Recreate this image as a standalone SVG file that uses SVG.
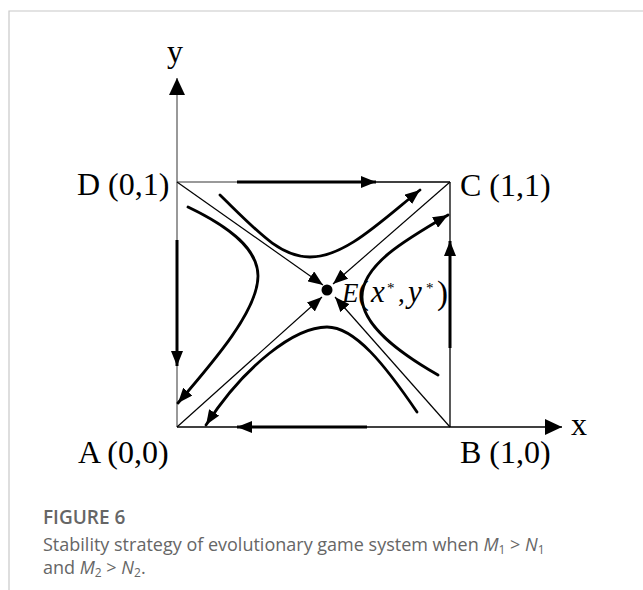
<svg xmlns="http://www.w3.org/2000/svg" width="643" height="590" viewBox="0 0 643 590">
<style>
.lbl{font-family:"Liberation Serif","Times New Roman",serif;font-size:32px;fill:#000}
.ax{stroke:#777;stroke-width:1.5;fill:none}
.edge{stroke:#000;stroke-width:1.3;fill:none}
.thick{stroke:#000;stroke-width:3;fill:none}
.curve{stroke:#000;stroke-width:2.8;fill:none;stroke-linecap:round}
.thin{stroke:#000;stroke-width:1.2;fill:none}
.cap{font-family:"Open Sans","Noto Sans",sans-serif;fill:#666}
.ef{font-family:"Liberation Serif","Times New Roman",serif;fill:#000}
</style>
<defs>
<marker id="ah" viewBox="0 0 15 12" refX="15" refY="6" markerWidth="15" markerHeight="12" markerUnits="userSpaceOnUse" orient="auto">
<path d="M0,0 L15,6 L0,12 Z" fill="#000"/>
</marker>
<marker id="ahs" viewBox="0 0 15 12" refX="15" refY="6" markerWidth="15" markerHeight="12" markerUnits="userSpaceOnUse" orient="auto">
<path d="M0,0 L15,6 L0,12 Z" fill="#000"/>
</marker>
<marker id="ahx" viewBox="0 0 17 16" refX="17" refY="8" markerWidth="17" markerHeight="16" markerUnits="userSpaceOnUse" orient="auto">
<path d="M0,0 L17,8 L0,16 Z" fill="#000"/>
</marker>
</defs>
<rect x="0" y="0" width="643" height="590" fill="#fff"/>
<g id="frame">
<path d="M9,590 V11 H643" stroke="#c8c8c8" stroke-width="1.2" fill="none"/>
</g>
<g id="axes">
<line class="ax" x1="177" y1="427" x2="177" y2="78" marker-end="url(#ahx)"/>
<line class="edge" x1="177" y1="427" x2="562" y2="427" marker-end="url(#ahx)"/>
</g>
<g id="square">
<line class="ax" x1="177" y1="182" x2="240" y2="182"/>
<line class="edge" x1="240" y1="182" x2="450" y2="182"/>
<line class="edge" x1="450" y1="182" x2="450" y2="427"/>
</g>
<g id="connectors">
<line class="thick" x1="237" y1="182" x2="376" y2="182" marker-end="url(#ah)"/>
<line class="thick" x1="177" y1="240" x2="177" y2="366" marker-end="url(#ah)"/>
<line class="thick" x1="450" y1="348" x2="450" y2="241" marker-end="url(#ah)"/>
<line class="thick" x1="367" y1="427" x2="237" y2="427" marker-end="url(#ah)"/>
<line class="thin" x1="177" y1="182" x2="323" y2="285" marker-end="url(#ahs)"/>
<line class="thin" x1="450" y1="182" x2="333" y2="284" marker-end="url(#ahs)"/>
<line class="thin" x1="177" y1="427" x2="322" y2="297" marker-end="url(#ahs)"/>
<line class="thin" x1="450" y1="427" x2="335" y2="297" marker-end="url(#ahs)"/>
<path class="curve" d="M220,195 C258,232 280,257 310,257 C345,257 380,222 420,190" marker-end="url(#ahs)"/>
<path class="curve" d="M188,207 C232,228 258,250 258,276 C258,310 215,360 178,403" marker-end="url(#ahs)"/>
<path class="curve" d="M438,375 C398,352 362,325 362,297 C362,265 405,240 448,215" marker-end="url(#ahs)"/>
<path class="curve" d="M417,412 C385,365 355,327 327,327 C295,327 245,365 206,425" marker-end="url(#ahs)"/>
</g>
<g id="E">
<circle cx="327" cy="290" r="5.5" fill="#000"/>
<text class="ef" x="342" y="302" font-size="27" font-style="italic">E</text>
<text class="ef" x="358" y="304" font-size="33">(</text>
<text class="ef" x="371" y="302" font-size="31" font-style="italic">x</text>
<text class="ef" x="387" y="293" font-size="15">*</text>
<text class="ef" x="398" y="302" font-size="27">,</text>
<text class="ef" x="408" y="302" font-size="31" font-style="italic">y</text>
<text class="ef" x="426" y="293" font-size="15">*</text>
<text class="ef" x="437" y="304" font-size="33">)</text>
</g>
<g id="labels">
<text class="lbl" x="167" y="62" font-size="28">y</text>
<text class="lbl" x="571" y="435" font-size="28">x</text>
<text class="lbl" x="77" y="195">D (0,1)</text>
<text class="lbl" x="460" y="196">C (1,1)</text>
<text class="lbl" x="78" y="463">A (0,0)</text>
<text class="lbl" x="460" y="463">B (1,0)</text>
</g>
<g id="caption">
<text class="cap" x="43" y="524" font-size="19" font-weight="600" fill="#555">FIGURE 6</text>
<text class="cap" x="43" y="551" font-size="18">Stability strategy of evolutionary game system when <tspan font-style="italic">M</tspan><tspan font-size="12" dy="3">1</tspan><tspan dy="-3"> &gt; </tspan><tspan font-style="italic">N</tspan><tspan font-size="12" dy="3">1</tspan></text>
<text class="cap" x="43" y="574" font-size="18">and <tspan font-style="italic">M</tspan><tspan font-size="12" dy="3">2</tspan><tspan dy="-3"> &gt; </tspan><tspan font-style="italic">N</tspan><tspan font-size="12" dy="3">2</tspan><tspan dy="-3">.</tspan></text>
</g>
</svg>
